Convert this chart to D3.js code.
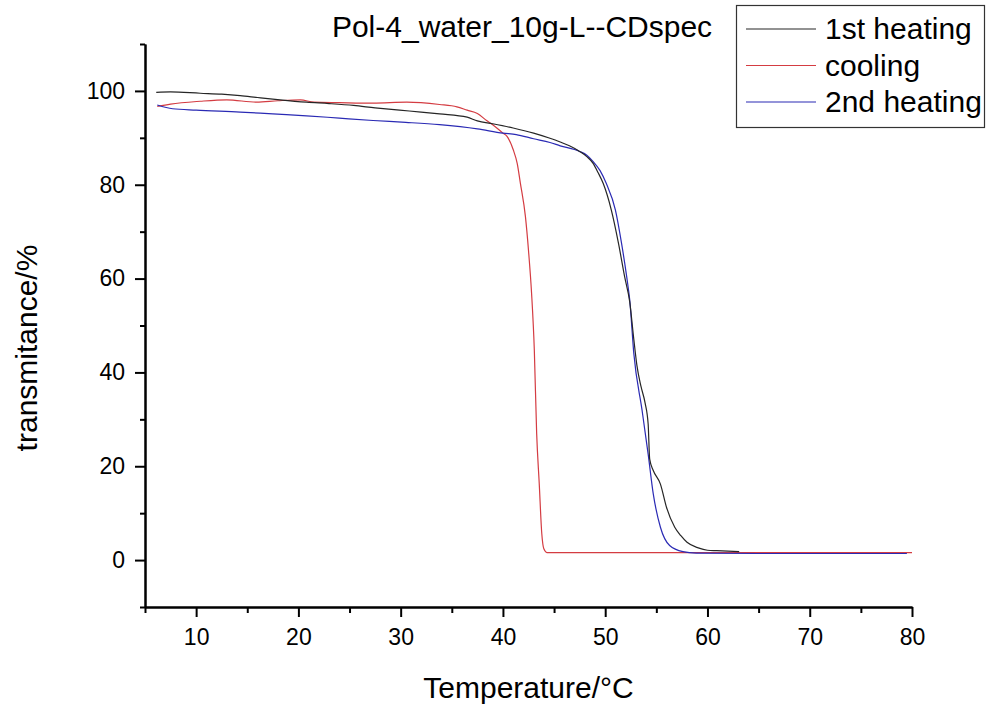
<!DOCTYPE html>
<html>
<head>
<meta charset="utf-8">
<script src="https://cdn.jsdelivr.net/npm/d3@7"></script>
<style>
  html, body { margin: 0; padding: 0; background: #fff; }
  svg text { font-family: "Liberation Sans", Arial, sans-serif; fill: #000; }
</style>
</head>
<body>
<svg id="chart" width="987" height="711"></svg>
<script>
// Turbidity scans: transmittance vs temperature
const chartTitle = "Pol-4_water_10g-L--CDspec";
const seriesNames = ["1st heating", "cooling", "2nd heating"];
const seriesColors = ["#262626", "#d43c42", "#2a2ab4"];

// 1st heating: [temperature °C, transmittance %]
const heating1 = [
  [6.1, 99.7], [7.5, 99.8], [10.4, 99.5], [12.5, 99.3], [14.3, 99.0], [16.0, 98.6],
  [18.2, 98.1], [20.8, 97.6], [23.0, 97.3], [25.4, 96.9], [27.5, 96.4], [29.9, 95.9],
  [32.0, 95.5], [33.8, 95.1], [36.5, 94.4], [37.5, 93.6], [39.0, 93.0], [41.0, 92.1],
  [43.0, 91.0], [44.6, 89.9], [45.6, 89.1], [46.5, 88.3], [47.5, 87.1], [48.2, 86.0],
  [48.8, 84.6], [49.3, 82.6], [49.8, 80.3], [50.6, 74.6], [51.3, 67.5], [51.9, 60.4],
  [52.4, 55.0], [52.8, 47.0], [53.1, 41.5], [53.5, 37.0], [53.9, 33.5], [54.2, 29.0],
  [54.35, 21.5], [54.7, 19.1], [55.4, 16.2], [56.0, 11.2], [56.8, 7.0], [57.4, 5.2],
  [58.0, 3.8], [59.1, 2.6], [60.0, 2.1], [60.9, 2.0], [63.1, 1.8]
];

// cooling
const cooling = [
  [6.2, 96.7], [7.5, 97.2], [10.4, 97.8], [13.0, 98.1], [15.9, 97.6], [18.0, 97.9],
  [20.2, 98.1], [21.5, 97.6], [24.0, 97.5], [27.3, 97.4], [30.6, 97.6], [33.8, 97.1],
  [35.5, 96.6], [36.5, 95.9], [37.5, 95.2], [38.4, 93.7], [39.0, 92.8], [40.0, 91.0],
  [40.4, 90.3], [41.0, 87.5], [41.4, 84.5], [41.7, 80.4], [42.2, 73.2], [42.5, 66.0],
  [42.8, 56.9], [43.07, 44.7], [43.3, 26.9], [43.55, 16.3], [43.8, 5.6], [44.0, 2.4],
  [44.3, 1.6], [50.0, 1.6], [60.0, 1.6], [70.0, 1.6], [80.0, 1.6]
];

// 2nd heating
const heating2 = [
  [6.2, 97.0], [7.7, 96.2], [10.0, 95.9], [14.3, 95.5], [17.5, 95.1], [20.8, 94.7],
  [24.0, 94.2], [27.3, 93.7], [30.5, 93.3], [33.8, 92.8], [37.5, 91.9], [40.0, 91.0],
  [41.3, 90.7], [43.0, 89.8], [44.6, 89.0], [45.6, 88.3], [47.5, 87.1], [48.2, 86.3],
  [48.8, 85.0], [49.5, 83.0], [50.1, 80.3], [51.0, 74.6], [51.6, 67.5], [52.1, 60.4],
  [52.4, 55.4], [52.8, 44.0], [53.6, 32.0], [54.2, 22.6], [54.7, 14.1], [55.4, 7.0],
  [56.3, 3.1], [57.6, 1.8], [58.9, 1.5], [65.0, 1.4], [79.5, 1.4]
];

const xMajorTicks = [10, 20, 30, 40, 50, 60, 70, 80];
const xMinorTicks = [5, 15, 25, 35, 45, 55, 65, 75];
const yMajorTicks = [0, 20, 40, 60, 80, 100];
const yMinorTicks = [-10, 10, 30, 50, 70, 90, 110];

const svg = d3.select("#chart");
const plot = { left: 145, right: 912, top: 44, bottom: 607 };

const x = d3.scaleLinear().domain([5, 80]).range([plot.left, plot.right]);
const y = d3.scaleLinear().domain([-10, 110]).range([plot.bottom, plot.top]);

// data lines
const line = d3.line().x(d => x(d[0])).y(d => y(d[1])).curve(d3.curveMonotoneX);
const allSeries = [heating1, cooling, heating2];
// draw order: cooling underneath, then 2nd heating, then 1st heating
[1, 2, 0].forEach(i => {
  svg.append("path")
    .datum(allSeries[i])
    .attr("fill", "none")
    .attr("stroke", seriesColors[i])
    .attr("stroke-width", 1.2)
    .attr("stroke-linejoin", "round")
    .attr("d", line);
});

// axes
function styleAxis(g) {
  g.selectAll("path.domain").attr("stroke", "#000").attr("stroke-width", 2);
  g.selectAll(".tick line").attr("stroke", "#000").attr("stroke-width", 2);
  g.selectAll(".tick text")
    .style("font-family", "'Liberation Sans', Arial, sans-serif")
    .style("font-size", "23px")
    .attr("fill", "#000");
}

const xAxisMinor = svg.append("g")
  .attr("transform", `translate(0,${plot.bottom})`)
  .call(d3.axisBottom(x).tickValues(xMinorTicks).tickSize(6).tickSizeOuter(0).tickFormat(""));
styleAxis(xAxisMinor);
const xAxis = svg.append("g")
  .attr("transform", `translate(0,${plot.bottom})`)
  .call(d3.axisBottom(x).tickValues(xMajorTicks).tickSize(10).tickSizeOuter(0).tickPadding(12).tickFormat(d3.format("d")));
styleAxis(xAxis);

const yAxisMinor = svg.append("g")
  .attr("transform", `translate(${plot.left},0)`)
  .call(d3.axisLeft(y).tickValues(yMinorTicks).tickSize(5).tickSizeOuter(0).tickFormat(""));
styleAxis(yAxisMinor);
const yAxis = svg.append("g")
  .attr("transform", `translate(${plot.left},0)`)
  .call(d3.axisLeft(y).tickValues(yMajorTicks).tickSize(10).tickSizeOuter(0).tickPadding(10).tickFormat(d3.format("d")));
styleAxis(yAxis);

// titles
svg.append("text")
  .attr("x", 522).attr("y", 37)
  .attr("text-anchor", "middle")
  .style("font-size", "30px")
  .text(chartTitle);

svg.append("text")
  .attr("x", (plot.left + plot.right) / 2).attr("y", 698)
  .attr("text-anchor", "middle")
  .style("font-size", "30px")
  .text("Temperature/°C");

svg.append("text")
  .attr("transform", `translate(37,${348}) rotate(-90)`)
  .attr("text-anchor", "middle")
  .style("font-size", "30px")
  .text("transmitance/%");

// legend
const legend = svg.append("g");
legend.append("rect")
  .attr("x", 736.5).attr("y", 5.5).attr("width", 248).attr("height", 122)
  .attr("fill", "#fff").attr("stroke", "#333").attr("stroke-width", 1.2);
seriesNames.forEach((name, i) => {
  const cy = 29 + i * 36.5;
  legend.append("line")
    .attr("x1", 746).attr("x2", 816).attr("y1", cy).attr("y2", cy)
    .attr("stroke", seriesColors[i]).attr("stroke-width", 1.2);
  legend.append("text")
    .attr("x", 825).attr("y", cy + 10)
    .style("font-size", "30px")
    .text(name);
});
</script>
</body>
</html>
